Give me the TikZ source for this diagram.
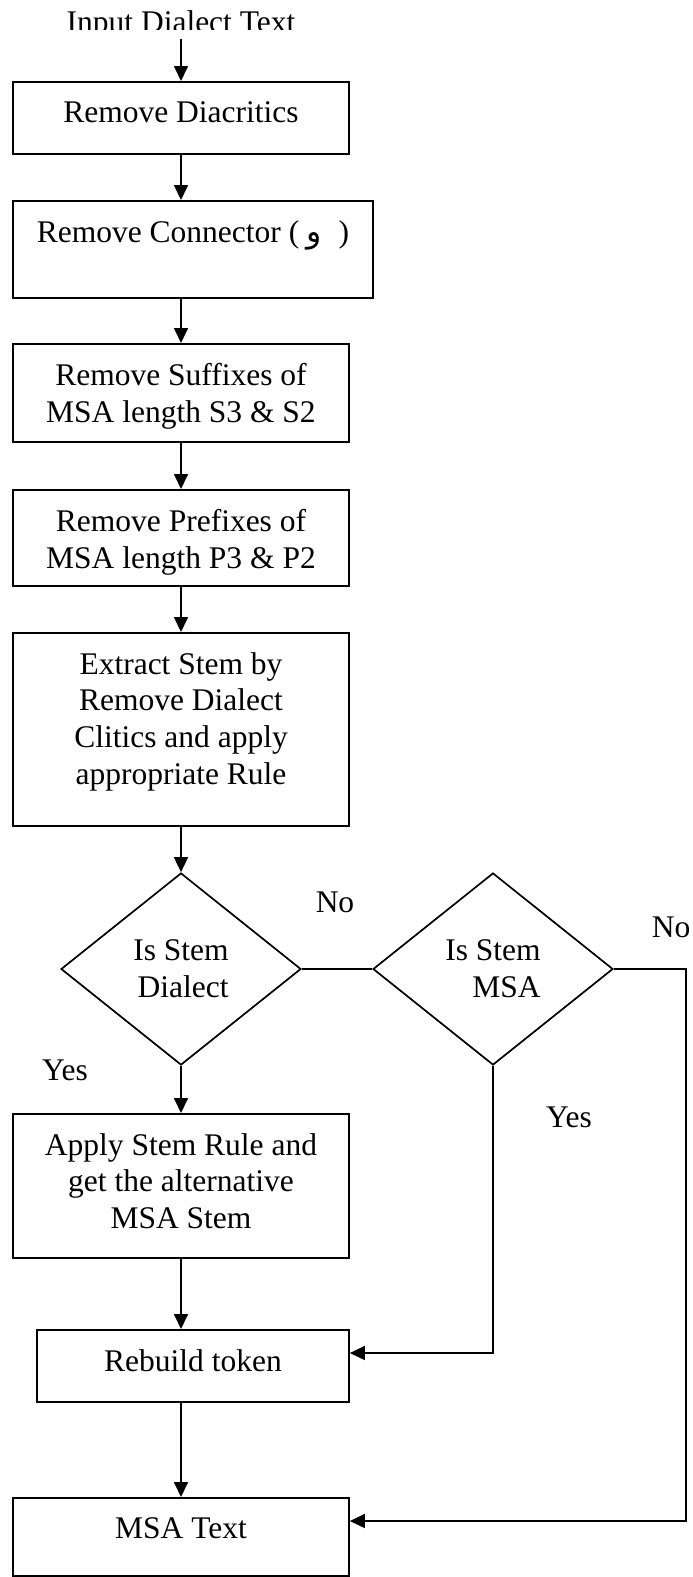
\documentclass[tikz,border=0pt]{standalone}
\usepackage{fontspec}
\setmainfont{Liberation Serif}
\newfontfamily\arabicfont[Script=Arabic]{DejaVu Sans}
\TeXXeTstate=1
\usepackage{tikz}
\usetikzlibrary{positioning}
\usetikzlibrary{shapes.geometric}
\usetikzlibrary{arrows.meta}

\tikzset{
  box/.style={draw, line width=1.7pt, minimum width=336pt, anchor=north, inner sep=0pt},
  txt/.style={font=\fontsize{31.5pt}{36.7pt}\selectfont, align=center, inner sep=0pt},
  decision/.style={draw, diamond, line width=1.7pt, minimum width=240pt, minimum height=192pt,
    inner sep=0pt, font=\fontsize{31.5pt}{36.7pt}\selectfont, align=right},
  arr/.style={line width=1.7pt, -{Triangle[length=15pt,width=14pt]}},
  link/.style={line width=1.7pt},
}

\begin{document}
\begin{tikzpicture}[x=1pt,y=-1pt]
    \useasboundingbox (0,0) rectangle (693,1577);
    \coordinate (spine) at (181,0);% axis of the down arrows
    
    \begin{scope}
      \clip (0,0) rectangle (693,29.5);% title cut at its foot
      \node[txt, anchor=base] (inp) at (181,32.5) {Input Dialect Text};
    \end{scope}
    
    \node[box, minimum height=72pt] (diacr) at (181,81) {};
    \node[txt, below=20pt of diacr.north] (diacrtxt) {Remove Diacritics};
    
    \node[box, minimum width=360pt, minimum height=97pt] (conn) at (193,200) {};
    \node[txt, below=20pt of conn.north] (conntxt) {Remove Connector (\hspace{0.22em}{\arabicfont\beginR و\endR}\hspace{0.3em} )};
    
    \node[box, minimum height=98pt] (suff) at (181,343) {};
    \node[txt, below=20pt of suff.north] (sufftxt) {Remove Suffixes of\\MSA length S3 \& S2};
    
    \node[box, minimum height=96pt] (pref) at (181,489) {};
    \node[txt, below=20pt of pref.north] (preftxt) {Remove Prefixes of\\MSA length P3 \& P2};
    
    \node[box, minimum height=193pt] (stem) at (181,632) {};
    \node[txt, below=20pt of stem.north] (stemtxt) {Extract Stem by\\Remove Dialect\\Clitics and apply\\appropriate Rule};
    
    \node[decision] (isdial) at (181,969) {Is Stem\\Dialect};% first test
    \node[decision] (ismsa) at (493,969) {Is Stem\\MSA};% second test
    
    \node[box, minimum height=144pt] (apply) at (181,1113) {};
    \node[txt, below=20pt of apply.north] (applytxt) {Apply Stem Rule and\\get the alternative\\MSA Stem};
    
    \node[box, minimum width=312pt, minimum height=72pt] (rebuild) at (193,1329) {};
    \node[txt, below=20pt of rebuild.north] (rebuildtxt) {Rebuild token};
    
    \node[box, minimum height=78pt] (msa) at (181,1497) {};
    \node[txt, below=20pt of msa.north] (msatxt) {MSA Text};
    
    \node[txt] (no1) at (335,902) {No};
    \node[txt] (no2) at (671,927) {No};
    \node[txt] (yes1) at (65,1070) {Yes};
    \node[txt] (yes2) at (569,1117) {Yes};
    
    \draw[arr] (spine |- inp.south) -- (spine |- diacr.north);
    \draw[arr] (spine |- diacr.south) -- (spine |- conn.north);
    \draw[arr] (spine |- conn.south) -- (spine |- suff.north);
    \draw[arr] (spine |- suff.south) -- (spine |- pref.north);
    \draw[arr] (spine |- pref.south) -- (spine |- stem.north);
    \draw[arr] (spine |- stem.south) -- (isdial.north);
    \draw[link] (isdial.east) -- (ismsa.west);% no branch
    \draw[arr] (isdial.south) -- (spine |- apply.north);% yes branch
    \draw[arr] (spine |- apply.south) -- (spine |- rebuild.north);
    \draw[arr] (spine |- rebuild.south) -- (spine |- msa.north);
    \draw[arr] (ismsa.south) |- ([yshift=-24pt]rebuild.north east);
    
    \coordinate (rturn) at (686,969);
    \draw[arr] (ismsa.east) -- (rturn) |- ([yshift=-24pt]msa.north east);
    
\end{tikzpicture}
\end{document}
